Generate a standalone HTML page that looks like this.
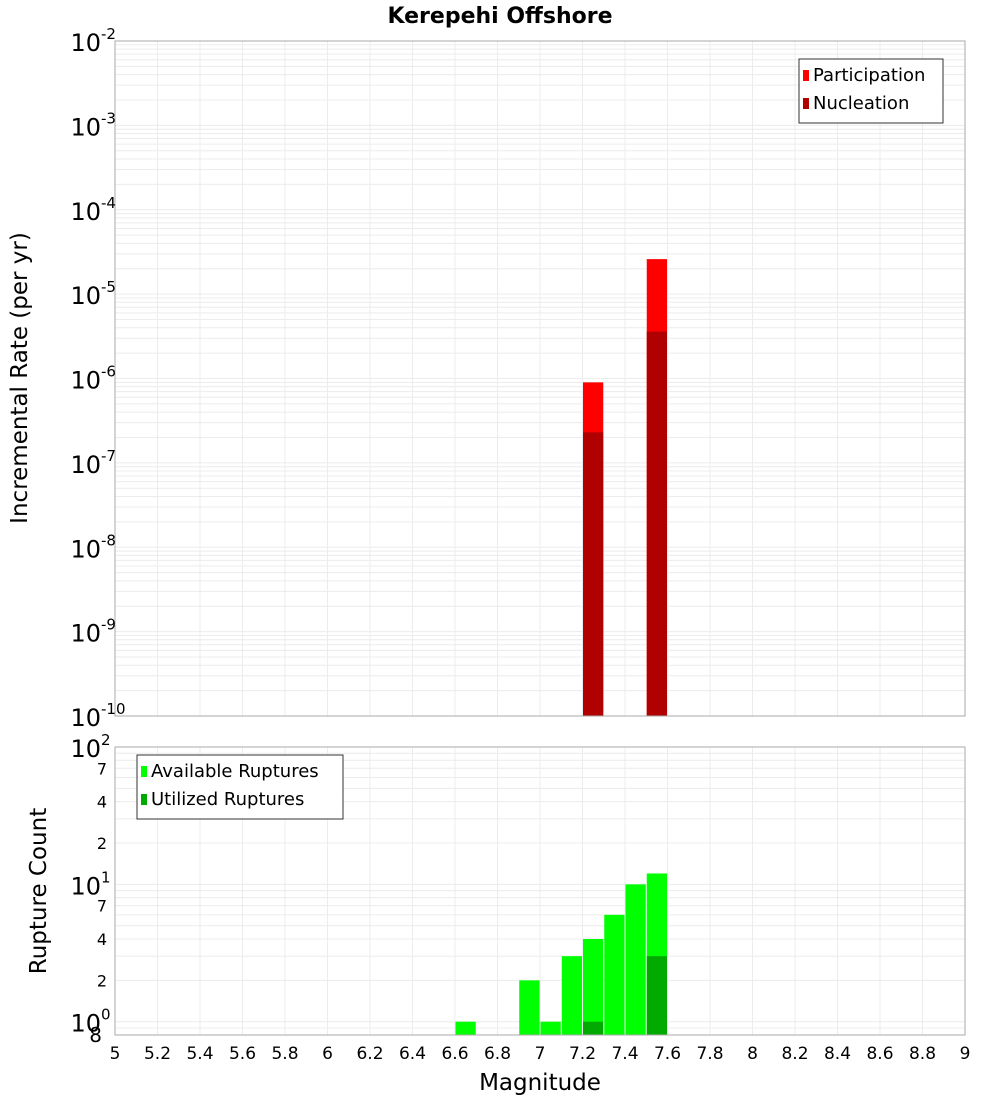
<!DOCTYPE html>
<html><head><meta charset="utf-8"><style>
body{margin:0;background:#fff;}
svg{display:block;font-family:"DejaVu Sans","Liberation Sans",sans-serif;}
</style></head><body>
<svg id="c" width="1000" height="1100" xmlns="http://www.w3.org/2000/svg">
<rect width="1000" height="1100" fill="#fff"/>
<text x="500" y="23" text-anchor="middle" font-size="22" font-weight="bold">Kerepehi Offshore</text>
<g id="top"></g><g id="bot"></g>
<text transform="translate(27,378) rotate(-90)" text-anchor="middle" font-size="23">Incremental Rate (per yr)</text>
<text transform="translate(46,891) rotate(-90)" text-anchor="middle" font-size="23">Rupture Count</text>
<text x="540" y="1090" text-anchor="middle" font-size="23">Magnitude</text>
</svg>
<script>
const mags = [7.25, 7.55];
const participation = [9e-7, 2.6e-5];
const nucleation = [2.3e-7, 3.6e-6];
const countMags = [6.65, 6.95, 7.05, 7.15, 7.25, 7.35, 7.45, 7.55];
const available = [1, 2, 1, 3, 4, 6, 10, 12];
const utilizedMags = [7.25, 7.55];
const utilized = [1, 3];
const xTicks = [5,5.2,5.4,5.6,5.8,6,6.2,6.4,6.6,6.8,7,7.2,7.4,7.6,7.8,8,8.2,8.4,8.6,8.8,9];
const topExps = [-10,-9,-8,-7,-6,-5,-4,-3,-2];
const botMinorLabels = [2,4,7];

const NS="http://www.w3.org/2000/svg";
const L=115,R=965;
const X=m=>L+(m-5)/(9-5)*(R-L);
const T0=41,T1=716, yT=v=>T0+(-2-Math.log10(v))/8*(T1-T0);
const B0=747,B1=1035, bmin=Math.log10(0.8), yB=v=>B0+(2-Math.log10(v))/(2-bmin)*(B1-B0);
function el(p,t,a){const e=document.createElementNS(NS,t);for(const k in a)e.setAttribute(k,a[k]);p.appendChild(e);return e;}
const topG=document.getElementById('top'), botG=document.getElementById('bot');

for(let e=-10;e<-2;e++)for(let k=1;k<10;k++){const y=yT(k*Math.pow(10,e));const g=el(topG,'line',{x1:L,x2:R,y1:y,y2:y,stroke:'#ececec','stroke-width':1});

}
for(let e=-1;e<2;e++)for(let k=1;k<10;k++){const v=k*Math.pow(10,e);if(v<0.8)continue;const y=yB(v);const g=el(botG,'line',{x1:L,x2:R,y1:y,y2:y,stroke:'#ececec','stroke-width':1});

}
xTicks.forEach(t=>{[ [topG,T0,T1],[botG,B0,B1] ].forEach(([p,a,b])=>{const g=el(p,'line',{x1:X(t),x2:X(t),y1:a,y2:b,stroke:'#ececec'});

});});

const bw=0.1*(R-L)/4-1;
mags.forEach((m,i)=>{
 const r=el(topG,'rect',{x:X(m)-bw/2,y:yT(participation[i]),width:bw,height:T1-yT(participation[i]),fill:'#ff0000'});
 
 
 const n=el(topG,'rect',{x:X(m)-bw/2,y:yT(nucleation[i]),width:bw,height:T1-yT(nucleation[i]),fill:'#b00000'});
 
 
});
countMags.forEach((m,i)=>{
 const r=el(botG,'rect',{x:X(m)-bw/2,y:yB(available[i]),width:bw,height:B1-yB(available[i]),fill:'#00ff00'});
 
 
});
utilizedMags.forEach((m,i)=>{
 const r=el(botG,'rect',{x:X(m)-bw/2,y:yB(utilized[i]),width:bw,height:B1-yB(utilized[i]),fill:'#00aa00'});
 
 
});
[[topG,T0,T1],[botG,B0,B1]].forEach(([p,a,b])=>{const f=el(p,'rect',{x:L,y:a,width:R-L,height:b-a,fill:'none',stroke:'#aaa'});

});

topExps.forEach(e=>{const y=yT(Math.pow(10,e));const t=el(topG,'text',{x:101,y:y+10,'text-anchor':'end','font-size':24});t.textContent='10';


const s=el(topG,'text',{x:101,y:y-2,'font-size':15});s.textContent=String(e);

});
[0,1,2].forEach(e=>{const y=yB(Math.pow(10,e));const t=el(botG,'text',{x:101,y:y+10,'text-anchor':'end','font-size':24});t.textContent='10';


const s=el(botG,'text',{x:101,y:y-2,'font-size':15});s.textContent=String(e);

});
const m8=el(botG,'text',{x:102,y:1042,'text-anchor':'end','font-size':20});m8.textContent='8';


[0,1].forEach(e=>botMinorLabels.forEach(k=>{const y=yB(k*Math.pow(10,e));const t=el(botG,'text',{x:107,y:y+6,'text-anchor':'end','font-size':16});t.textContent=String(k);

}));
xTicks.forEach(t=>{const e=el(botG,'text',{x:X(t),y:1059,'text-anchor':'middle','font-size':17});e.textContent=String(t);

});

function legend(p,x,y,w,items,nm){const g=el(p,'g',{});


el(g,'rect',{x:x,y:y,width:w,height:items.length*28+8,fill:'#fff',stroke:'#333'});
items.forEach((it,i)=>{el(g,'rect',{x:x+4,y:y+11+i*28,width:6,height:11,fill:it[1]});const t=el(g,'text',{x:x+14,y:y+22+i*28,'font-size':18});t.textContent=it[0];});}
legend(topG,799,59,144,[['Participation','#ff0000'],['Nucleation','#b00000']],'legend-rate');
legend(botG,137,755,206,[['Available Ruptures','#00ff00'],['Utilized Ruptures','#00aa00']],'legend-count');
</script>
</body></html>
